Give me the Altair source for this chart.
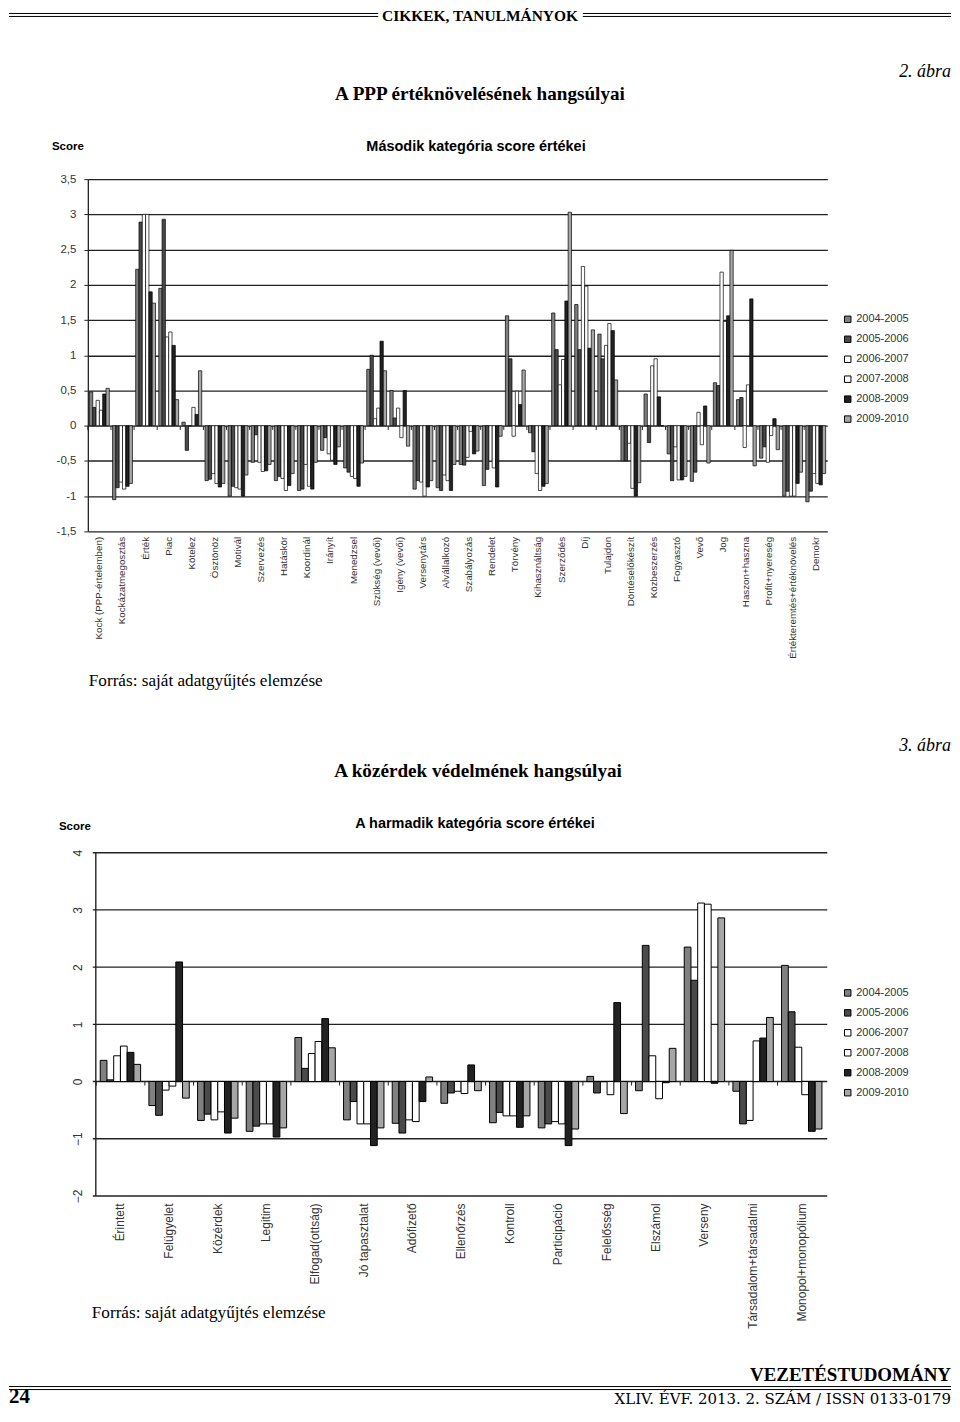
import altair as alt
import pandas as pd

# ---------------- data ----------------
series = ["2004-2005", "2005-2006", "2006-2007", "2007-2008", "2008-2009", "2009-2010"]
series_colors = ["#808080", "#4a4a4a", "#ffffff", "#ffffff", "#222222", "#a6a6a6"]

cats1 = ["Kock (PPP-értelemben)", "Kockázatmegosztás", "Érték", "Piac", "Kötelez",
         "Ösztönöz", "Motivál", "Szervezés", "Hatáskör", "Koordinál", "Irányít",
         "Menedzsel", "Szükség (vevői)", "Igény (vevői)", "Versenytárs", "Alvállalkozó",
         "Szabályozás", "Rendelet", "Törvény", "Kihasználtság", "Szerződés", "Díj",
         "Tulajdon", "Döntéselőkészít", "Közbeszerzés", "Fogyasztó", "Vevő", "Jog",
         "Haszon+haszna", "Profit+nyereség", "Értékteremtés+értéknövelés", "Demokr"]

c1_2004 = [0.48, -1.05, 2.22, 1.95, 0.05, -0.78, -1.00, -0.52, -0.78, -0.92, -0.35, -0.60, 0.80, 0.50, -0.90, -0.88,
           -0.55, -0.85, 1.56, -0.10, 1.60, 1.72, 1.30, -0.50, 0.45, -0.40, -0.79, 0.61, 0.37, -0.46, -1.00, -1.08]
c1_2005 = [0.26, -0.88, 2.89, 2.93, -0.35, -0.76, -0.86, -0.13, -0.72, -0.90, -0.17, -0.66, 1.00, 0.11, -0.78, -0.92,
           -0.56, -0.62, 0.95, -0.37, 1.08, 1.08, 0.95, -0.50, -0.24, -0.78, -0.66, 0.57, 0.40, -0.30, -0.93, -0.93]
c1_2006 = [0.36, -0.80, 3.00, 1.26, 0.00, -0.68, -0.88, -0.52, -0.75, -0.55, -0.40, -0.72, 0.10, 0.25, -0.80, -0.70,
           -0.45, -0.50, -0.15, -0.68, 0.58, 2.26, 1.14, -0.25, 0.85, -0.30, 0.19, 2.18, -0.31, -0.52, -1.00, -0.68]
c1_2007 = [0.22, -0.90, 3.00, 1.33, 0.26, -0.82, -0.90, -0.65, -0.92, -0.86, -0.49, -0.75, 0.25, -0.17, -1.00, -0.78,
           -0.08, -0.60, 0.49, -0.92, 0.94, 1.98, 1.45, -0.89, 0.95, -0.77, -0.27, 1.48, 0.58, -0.14, -1.00, -0.82]
c1_2008 = [0.45, -0.86, 1.90, 1.14, 0.16, -0.87, -1.00, -0.64, -0.85, -0.90, -0.55, -0.86, 1.20, 0.50, -0.87, -0.92,
           -0.40, -0.87, 0.30, -0.86, 1.77, 1.10, 1.35, -1.00, 0.41, -0.77, 0.28, 1.56, 1.80, 0.10, -0.82, -0.84]
c1_2009 = [0.53, -0.82, 1.74, 0.37, 0.78, -0.82, -0.70, -0.55, -0.68, -0.52, -0.30, -0.53, 0.78, -0.29, -0.78, -0.55,
           -0.36, -0.15, 0.79, -0.82, 3.03, 1.36, 0.65, -0.81, 0.00, -0.72, -0.53, 2.49, -0.57, -0.34, -0.66, -0.68]

cats2 = ["Érintett", "Felügyelet", "Közérdek", "Legitim", "Elfogad(ottság)", "Jó tapasztalat",
         "Adófizető", "Ellenőrzés", "Kontroll", "Participáció", "Felelősség", "Elszámol",
         "Verseny", "Társadalom+társadalmi", "Monopol+monopólium"]

c2_2004 = [0.37, -0.42, -0.68, -0.87, 0.77, -0.67, -0.73, -0.38, -0.72, -0.81, 0.09, -0.16, 2.35, -0.17, 2.03]
c2_2005 = [0.03, -0.59, -0.57, -0.78, 0.23, -0.35, -0.90, -0.20, -0.54, -0.74, -0.20, 2.38, 1.77, -0.74, 1.22]
c2_2006 = [0.45, -0.15, -0.67, -0.74, 0.49, -0.74, -0.67, -0.17, -0.60, -0.70, 0.00, 0.45, 3.12, -0.68, 0.60]
c2_2007 = [0.62, -0.08, -0.53, -0.74, 0.70, -0.74, -0.70, -0.21, -0.60, -0.74, -0.23, -0.30, 3.10, 0.71, -0.23]
c2_2008 = [0.51, 2.09, -0.90, -0.97, 1.10, -1.12, -0.35, 0.29, -0.80, -1.12, 1.38, -0.02, -0.03, 0.76, -0.87]
c2_2009 = [0.30, -0.29, -0.64, -0.81, 0.59, -0.81, 0.08, -0.16, -0.60, -0.83, -0.56, 0.58, 2.86, 1.12, -0.83]

y1_ticks = [-1.5, -1, -0.5, 0, 0.5, 1, 1.5, 2, 2.5, 3, 3.5]
y2_ticks = [-2, -1, 0, 1, 2, 3, 4]

header_text = "CIKKEK, TANULMÁNYOK"
fig2_no = "2. ábra"
fig2_title = "A PPP értéknövelésének hangsúlyai"
chart1_title = "Második kategória score értékei"
score_label = "Score"
source_text = "Forrás: saját adatgyűjtés elemzése"
fig3_no = "3. ábra"
fig3_title = "A közérdek védelmének hangsúlyai"
chart2_title = "A harmadik kategória score értékei"
journal = "VEZETÉSTUDOMÁNY"
page_no = "24"
issue = "XLIV. ÉVF. 2013. 2. SZÁM / ISSN 0133-0179"


def long_df(cats, cols):
    rows = []
    for s, vals in zip(series, cols):
        for c, v in zip(cats, vals):
            rows.append({"cat": c, "series": s, "value": v})
    return pd.DataFrame(rows)


df1 = long_df(cats1, [c1_2004, c1_2005, c1_2006, c1_2007, c1_2008, c1_2009])
df2 = long_df(cats2, [c2_2004, c2_2005, c2_2006, c2_2007, c2_2008, c2_2009])

SANS = "Liberation Sans"
SERIF = "Liberation Serif"
ONE = alt.Data(values=[{"k": 1}])


def txt(s, x, y, size, font, weight="normal", style="normal", align="left", baseline="middle", color="black"):
    return alt.Chart(ONE).mark_text(text=s, fontSize=size, font=font, fontWeight=weight,
                                    fontStyle=style, align=align, baseline=baseline,
                                    color=color).encode(x=alt.value(x), y=alt.value(y))


def hline(x1, x2, y, w=1.0):
    return alt.Chart(ONE).mark_rule(color="black", strokeWidth=w).encode(
        x=alt.value(x1), x2=alt.value(x2), y=alt.value(y))


def legend():
    return alt.Legend(title=None, orient="none", legendX=756, legendY=135, symbolType="square",
                      symbolSize=42, symbolStrokeColor="black", symbolStrokeWidth=1,
                      labelFont=SANS, labelFontSize=11, labelColor="#333333",
                      rowPadding=8, padding=0, labelOffset=3)


color_scale = alt.Scale(domain=series, range=series_colors)

# ---------------- chart 1 ----------------
W1, H1 = 741, 353
bars1 = alt.Chart(df1).mark_bar(stroke="black", strokeWidth=0.7).encode(
    x=alt.X("cat:N", sort=cats1, title=None,
            scale=alt.Scale(paddingInner=0.14, paddingOuter=0.07),
            axis=alt.Axis(labelAngle=-90, labelAlign="right", labelBaseline="middle",
                          labelFontSize=9.8, labelFont=SANS, labelColor="#333333",
                          domain=False, ticks=False, grid=False, labelPadding=5, labelLimit=220)),
    xOffset=alt.XOffset("series:N", sort=series, scale=alt.Scale(paddingInner=0, paddingOuter=0)),
    y=alt.Y("value:Q", title=None, scale=alt.Scale(domain=[-1.5, 3.5], nice=False),
            axis=alt.Axis(values=y1_ticks, tickCount=20, labelOverlap=False,
                          labelExpr="replace(toString(datum.value), '.', ',')",
                          grid=True, gridColor="#222222", gridWidth=1.3,
                          domainColor="#222222", domainWidth=1.3, tickColor="#222222",
                          tickSize=4, labelPadding=8, labelFontSize=11.5, labelFont=SANS,
                          labelColor="#333333")),
    color=alt.Color("series:N", sort=series, scale=color_scale, legend=legend()),
)
ticks1 = alt.Chart(pd.DataFrame({"cat": cats1})).mark_rule(color="#222222", strokeWidth=1, xOffset=-1.6).encode(
    x=alt.X("cat:N", sort=cats1, bandPosition=0, title=None),
    y=alt.YDatum(0, title=None), y2=alt.Y2Datum(-0.06))

c1 = alt.layer(
    bars1, ticks1,
    hline(-79, 378 - 87, -166), hline(-79, 378 - 87, -163),
    hline(583 - 87, 865, -166), hline(583 - 87, 865, -163),
    txt(header_text, 393, -163, 15.5, SERIF, weight="bold", align="center"),
    txt(fig2_no, 865, -107, 18, SERIF, style="italic", align="right"),
    txt(fig2_title, 393, -85, 19.2, SERIF, weight="bold", align="center"),
    txt(score_label, -36, -32, 11.5, SANS, weight="bold"),
    txt(chart1_title, 389, -32, 14.5, SANS, weight="bold", align="center"),
    txt(source_text, 1, 503, 17.2, SERIF),
).properties(width=W1, height=H1)

# ---------------- chart 2 ----------------
W2, H2 = 741, 344
bars2 = alt.Chart(df2).mark_bar(stroke="black", strokeWidth=1).encode(
    x=alt.X("cat:N", sort=cats2, title=None,
            scale=alt.Scale(paddingInner=0.17, paddingOuter=0.182, align=0.7),
            axis=alt.Axis(labelAngle=-90, labelAlign="right", labelBaseline="middle",
                          labelFontSize=12, labelFont=SANS, labelColor="#333333",
                          domain=False, ticks=False, grid=False, labelPadding=7, labelLimit=220)),
    xOffset=alt.XOffset("series:N", sort=series, scale=alt.Scale(paddingInner=0, paddingOuter=0)),
    y=alt.Y("value:Q", title=None, scale=alt.Scale(domain=[-2, 4], nice=False),
            axis=alt.Axis(values=y2_ticks, tickCount=20, format="d", grid=False, domain=False, ticks=False,
                          labelAngle=-90, labelAlign="center", labelBaseline="bottom",
                          labelPadding=3, labelFontSize=12, labelFont=SANS, labelColor="#333333")),
    color=alt.Color("series:N", sort=series, scale=color_scale, legend=legend()),
)
grid2 = alt.Chart(pd.DataFrame({"g": y2_ticks})).mark_rule(color="#222222", strokeWidth=1.4).encode(
    y=alt.Y("g:Q", title=None), x=alt.value(5), x2=alt.value(W2))
vline2 = alt.Chart(ONE).mark_rule(color="#222222", strokeWidth=1.4).encode(
    x=alt.value(8), y=alt.value(0), y2=alt.value(H2))
ticks2 = alt.Chart(pd.DataFrame({"cat": cats2})).mark_rule(color="#222222", strokeWidth=1, xOffset=-4).encode(
    x=alt.X("cat:N", sort=cats2, bandPosition=0, title=None),
    y=alt.YDatum(0, title=None), y2=alt.Y2Datum(-0.07))

c2 = alt.layer(
    grid2, vline2, bars2, ticks2,
    txt(fig3_no, 865, -107, 18, SERIF, style="italic", align="right"),
    txt(fig3_title, 391, -82, 19.2, SERIF, weight="bold", align="center"),
    txt(score_label, -29, -26, 11.5, SANS, weight="bold"),
    txt(chart2_title, 388, -29, 14.5, SANS, weight="bold", align="center"),
    txt(source_text, 4, 461, 17.2, SERIF),
    txt(journal, 865, 523, 19, SERIF, weight="bold", align="right"),
    hline(-79, 865, 535), hline(-79, 865, 538),
    txt(page_no, -79, 555, 21, SERIF, weight="bold", baseline="bottom"),
    txt(issue, 865, 555, 15, "DejaVu Serif", align="right", baseline="bottom"),
).properties(width=W2, height=H2)

chart = alt.vconcat(c1, c2, spacing=322, bounds="flush").resolve_scale(
    x="independent", y="independent", xOffset="independent", color="independent"
).properties(padding=0).configure_view(stroke=None)

chart.save("out.html", embed_options={"renderer": "svg", "actions": False})
